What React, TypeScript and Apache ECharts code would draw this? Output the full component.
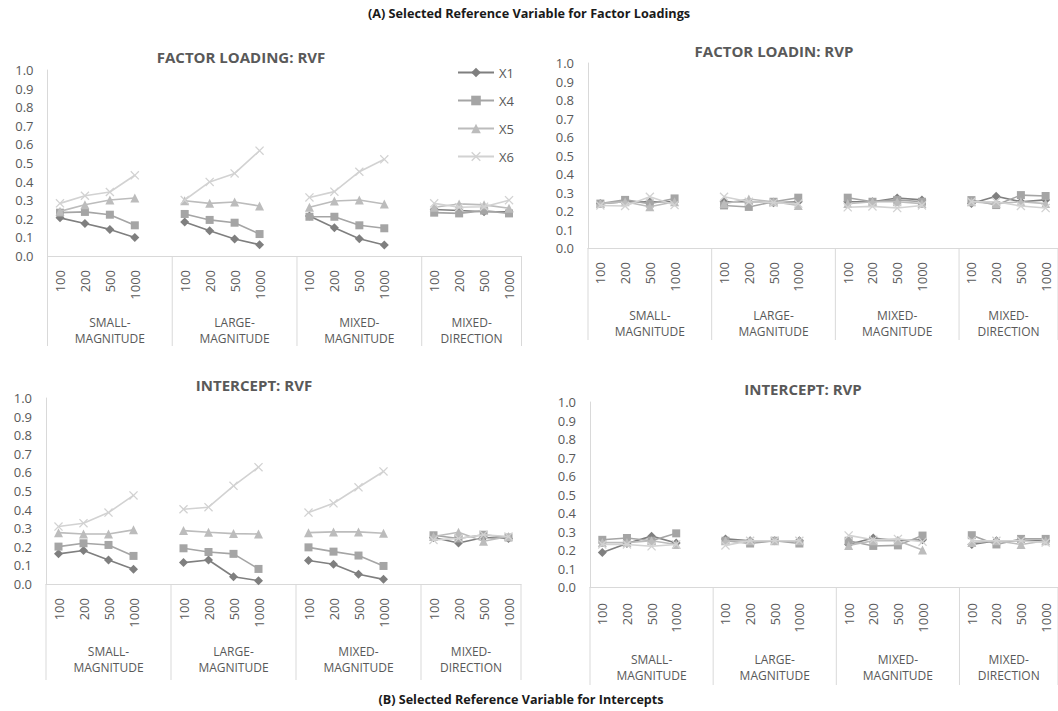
import React, { useEffect, useRef } from 'react';
import * as echarts from 'echarts';

const SAMPLE_SIZES = ['100', '200', '500', '1000'];
const GROUPS = ['SMALL-\nMAGNITUDE', 'LARGE-\nMAGNITUDE', 'MIXED-\nMAGNITUDE', 'MIXED-\nDIRECTION'];
const SERIES_NAMES = ['X1', 'X4', 'X5', 'X6'];
const PANEL_TITLES = ['FACTOR LOADING: RVF', 'FACTOR LOADIN: RVP', 'INTERCEPT: RVF', 'INTERCEPT: RVP'];
const TITLE_A = '(A) Selected Reference Variable for Factor Loadings';
const TITLE_B = '(B) Selected Reference Variable for Intercepts';

// Factor loading, RVF (values per group: small, large, mixed-magnitude, mixed-direction)
const FL_RVF_X1 = [0.205, 0.175, 0.143, 0.100, 0.183, 0.136, 0.091, 0.061, 0.215, 0.152, 0.093, 0.059, 0.250, 0.245, 0.238, 0.238];
const FL_RVF_X4 = [0.233, 0.237, 0.222, 0.165, 0.226, 0.194, 0.179, 0.118, 0.211, 0.211, 0.165, 0.149, 0.233, 0.229, 0.244, 0.229];
const FL_RVF_X5 = [0.240, 0.276, 0.301, 0.312, 0.297, 0.283, 0.290, 0.269, 0.262, 0.296, 0.301, 0.280, 0.262, 0.280, 0.275, 0.257];
const FL_RVF_X6 = [0.283, 0.324, 0.344, 0.434, 0.301, 0.398, 0.444, 0.566, 0.315, 0.346, 0.453, 0.520, 0.283, 0.262, 0.265, 0.300];

// Factor loading, RVP
const FL_RVP_X1 = [0.240, 0.250, 0.250, 0.250, 0.250, 0.250, 0.245, 0.250, 0.250, 0.250, 0.270, 0.260, 0.240, 0.280, 0.250, 0.260];
const FL_RVP_X4 = [0.240, 0.260, 0.240, 0.268, 0.230, 0.222, 0.250, 0.272, 0.272, 0.250, 0.260, 0.250, 0.259, 0.232, 0.286, 0.281];
const FL_RVP_X5 = [0.240, 0.250, 0.223, 0.250, 0.240, 0.265, 0.250, 0.230, 0.240, 0.250, 0.250, 0.240, 0.250, 0.240, 0.250, 0.240];
const FL_RVP_X6 = [0.230, 0.227, 0.277, 0.232, 0.277, 0.250, 0.245, 0.240, 0.220, 0.225, 0.216, 0.230, 0.250, 0.250, 0.227, 0.216];

// Intercept, RVF
const INT_RVF_X1 = [0.162, 0.180, 0.129, 0.079, 0.115, 0.129, 0.039, 0.018, 0.126, 0.106, 0.052, 0.025, 0.250, 0.220, 0.250, 0.245];
const INT_RVF_X4 = [0.201, 0.219, 0.210, 0.151, 0.192, 0.172, 0.162, 0.081, 0.197, 0.174, 0.153, 0.097, 0.262, 0.245, 0.265, 0.250];
const INT_RVF_X5 = [0.276, 0.269, 0.269, 0.291, 0.287, 0.278, 0.271, 0.269, 0.276, 0.280, 0.280, 0.273, 0.255, 0.278, 0.230, 0.255];
const INT_RVF_X6 = [0.309, 0.327, 0.384, 0.476, 0.402, 0.413, 0.528, 0.628, 0.384, 0.434, 0.520, 0.605, 0.237, 0.245, 0.265, 0.255];

// Intercept, RVP
const INT_RVP_X1 = [0.186, 0.235, 0.275, 0.238, 0.260, 0.250, 0.250, 0.250, 0.230, 0.265, 0.250, 0.255, 0.230, 0.250, 0.250, 0.250];
const INT_RVP_X4 = [0.255, 0.265, 0.250, 0.290, 0.250, 0.235, 0.250, 0.235, 0.250, 0.222, 0.225, 0.278, 0.280, 0.230, 0.260, 0.260];
const INT_RVP_X5 = [0.240, 0.240, 0.250, 0.230, 0.250, 0.250, 0.250, 0.250, 0.225, 0.250, 0.250, 0.200, 0.240, 0.250, 0.230, 0.250];
const INT_RVP_X6 = [0.230, 0.230, 0.220, 0.230, 0.225, 0.250, 0.250, 0.250, 0.279, 0.255, 0.260, 0.245, 0.250, 0.250, 0.250, 0.240];

const PANEL_DATA = [
  [FL_RVF_X1, FL_RVF_X4, FL_RVF_X5, FL_RVF_X6],
  [FL_RVP_X1, FL_RVP_X4, FL_RVP_X5, FL_RVP_X6],
  [INT_RVF_X1, INT_RVF_X4, INT_RVF_X5, INT_RVF_X6],
  [INT_RVP_X1, INT_RVP_X4, INT_RVP_X5, INT_RVP_X6],
];

const COLORS = ['#7f7f7f', '#a5a5a5', '#bcbcbc', '#d2d2d2'];
const CROSS = 'path://M1,0L5,4L9,0L10,1L6,5L10,9L9,10L5,6L1,10L0,9L4,5L0,1Z';
const SYMBOLS = ['diamond', 'rect', 'triangle', CROSS];
const SYMBOL_SIZES = [9, 8, 9, 9];
const FONT = "'Open Sans', sans-serif";
const TEXT = '#595959';
const AXIS = '#d9d9d9';

const LAYOUT = [
  { grid: { left: 47.5, top: 70, width: 474, height: 186 }, tx: 241, ty: 57, labelY: 74, lineLen: 90, margin: 14 },
  { grid: { left: 588, top: 63, width: 472, height: 185 }, tx: 774, ty: 51, labelY: 75, lineLen: 92, margin: 14 },
  { grid: { left: 46, top: 398, width: 475, height: 186 }, tx: 254, ty: 385, labelY: 75, lineLen: 96, margin: 14 },
  { grid: { left: 590, top: 402, width: 472, height: 185 }, tx: 803, ty: 389, labelY: 80, lineLen: 98, margin: 16 },
];

function buildCategories(): string[] {
  const out: string[] = [];
  GROUPS.forEach((_, g) => {
    SAMPLE_SIZES.forEach((s) => out.push(s));
    if (g < GROUPS.length - 1) out.push('');
  });
  return out;
}

function buildData(vals: number[]): (number | null)[] {
  const out: (number | null)[] = [];
  GROUPS.forEach((_, g) => {
    for (let k = 0; k < SAMPLE_SIZES.length; k++) out.push(vals[g * SAMPLE_SIZES.length + k]);
    if (g < GROUPS.length - 1) out.push(null);
  });
  return out;
}

function groupSpans(): number[][] {
  const spans: number[][] = [];
  let idx = 0;
  GROUPS.forEach((_, g) => {
    const len = SAMPLE_SIZES.length + (g < GROUPS.length - 1 ? 1 : 0);
    spans.push([idx, 0, idx + len - 1, g]);
    idx += len;
  });
  return spans;
}

export default function App() {
  const ref = useRef<HTMLDivElement>(null);
  useEffect(() => {
    if (!ref.current) return;
    const chart = echarts.init(ref.current, undefined, { renderer: 'svg' });
    const cats = buildCategories();
    const spans = groupSpans();

    const grids: any[] = [];
    const xAxes: any[] = [];
    const yAxes: any[] = [];
    const series: any[] = [];
    const graphics: any[] = [];

    LAYOUT.forEach((L, i) => {
      grids.push({ ...L.grid, containLabel: false });
      xAxes.push({
        type: 'category',
        gridIndex: i,
        data: cats,
        boundaryGap: true,
        axisLine: { show: true, lineStyle: { color: AXIS, width: 1 } },
        axisTick: { show: false },
        axisLabel: { interval: 0, rotate: 90, margin: L.margin, fontSize: 13, color: TEXT, fontFamily: FONT },
        splitLine: { show: false },
      });
      yAxes.push({
        type: 'value',
        gridIndex: i,
        min: 0,
        max: 1,
        interval: 0.1,
        axisLine: { show: true, lineStyle: { color: AXIS, width: 1 } },
        axisTick: { show: false },
        splitLine: { show: false },
        axisLabel: { margin: 14, fontSize: 13, color: TEXT, fontFamily: FONT, formatter: (v: number) => v.toFixed(1) },
      });
      PANEL_DATA[i].forEach((vals, j) => {
        series.push({
          type: 'line',
          name: SERIES_NAMES[j],
          xAxisIndex: i,
          yAxisIndex: i,
          data: buildData(vals),
          symbol: SYMBOLS[j],
          symbolSize: SYMBOL_SIZES[j],
          showSymbol: true,
          connectNulls: false,
          itemStyle: { color: COLORS[j] },
          lineStyle: { color: COLORS[j], width: 1.6 },
          silent: true,
          z: 3 + j,
        });
      });
      const lineLen = L.lineLen;
      const labelY = L.labelY;
      series.push({
        type: 'custom',
        name: 'groups' + i,
        xAxisIndex: i,
        yAxisIndex: i,
        clip: false,
        silent: true,
        z: 1,
        data: spans,
        renderItem: (params: any, api: any) => {
          const s = api.value(0);
          const e = api.value(2);
          const g = api.value(3);
          const band = api.size([1, 0])[0];
          const p0 = api.coord([s, 0]);
          const p1 = api.coord([e, 0]);
          const y0 = p0[1];
          const xL = p0[0] - band / 2;
          const xR = p1[0] + band / 2;
          const children: any[] = [
            { type: 'line', shape: { x1: xL, y1: y0, x2: xL, y2: y0 + lineLen }, style: { stroke: AXIS, lineWidth: 1 } },
          ];
          if (g === GROUPS.length - 1) {
            children.push({ type: 'line', shape: { x1: xR, y1: y0, x2: xR, y2: y0 + lineLen }, style: { stroke: AXIS, lineWidth: 1 } });
          }
          children.push({
            type: 'text',
            style: {
              text: GROUPS[g],
              x: (xL + xR) / 2,
              y: y0 + labelY,
              textAlign: 'center',
              textVerticalAlign: 'middle',
              fontSize: 12,
              lineHeight: 16,
              fontFamily: FONT,
              fill: TEXT,
            },
          });
          return { type: 'group', children };
        },
      });
      graphics.push({
        type: 'text',
        x: L.tx,
        y: L.ty,
        silent: true,
        style: {
          text: PANEL_TITLES[i],
          textAlign: 'center',
          textVerticalAlign: 'middle',
          fontSize: 15,
          fontWeight: 'bold',
          fontFamily: FONT,
          fill: TEXT,
        },
      });
    });

    graphics.push({
      type: 'text', x: 529, y: 13, silent: true,
      style: { text: TITLE_A, textAlign: 'center', textVerticalAlign: 'middle', fontSize: 12.7, fontWeight: 'bold', fontFamily: FONT, fill: '#1a1a1a' },
    });
    graphics.push({
      type: 'text', x: 521, y: 699, silent: true,
      style: { text: TITLE_B, textAlign: 'center', textVerticalAlign: 'middle', fontSize: 12.6, fontWeight: 'bold', fontFamily: FONT, fill: '#1a1a1a' },
    });

    chart.setOption({
      animation: false,
      backgroundColor: '#ffffff',
      textStyle: { fontFamily: FONT },
      grid: grids,
      xAxis: xAxes,
      yAxis: yAxes,
      series,
      graphic: graphics,
      legend: {
        data: SERIES_NAMES,
        orient: 'vertical',
        left: 457,
        top: 66,
        padding: 0,
        itemWidth: 36,
        itemHeight: 12,
        itemGap: 15,
        textStyle: { fontSize: 13, color: TEXT, fontFamily: FONT },
      },
    });
    return () => chart.dispose();
  }, []);

  return (
    <div style={{ position: 'fixed', left: 0, top: 0, width: 1058, height: 711, overflow: 'hidden', background: '#fff' }}>
      <div ref={ref} style={{ width: 1058, height: 711 }} />
    </div>
  );
}
